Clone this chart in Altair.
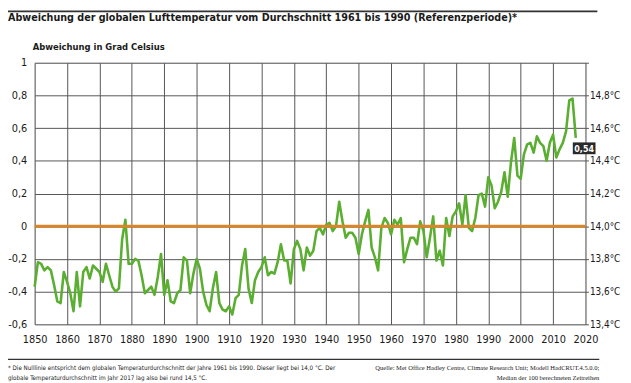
import altair as alt
import pandas as pd

# HadCRUT 4.5.0.0 annual median anomalies (deg C vs 1961-1990)
years = list(range(1850, 2018))
anomaly = [
    -0.37, -0.22, -0.23, -0.27, -0.25, -0.27, -0.36, -0.46, -0.47, -0.28,  # 1850s
    -0.34, -0.41, -0.52, -0.28, -0.49, -0.28, -0.25, -0.32, -0.24, -0.26,  # 1860s
    -0.28, -0.34, -0.23, -0.30, -0.37, -0.40, -0.38, -0.08, 0.04, -0.23,   # 1870s
    -0.23, -0.20, -0.21, -0.30, -0.41, -0.39, -0.37, -0.42, -0.31, -0.17,  # 1880s
    -0.42, -0.33, -0.46, -0.47, -0.41, -0.39, -0.19, -0.21, -0.41, -0.29,  # 1890s
    -0.20, -0.26, -0.40, -0.48, -0.52, -0.38, -0.28, -0.47, -0.51, -0.52,  # 1900s
    -0.49, -0.54, -0.44, -0.42, -0.24, -0.14, -0.38, -0.47, -0.33, -0.28,  # 1910s
    -0.25, -0.19, -0.30, -0.28, -0.29, -0.22, -0.11, -0.21, -0.21, -0.35,  # 1920s
    -0.14, -0.09, -0.14, -0.27, -0.13, -0.18, -0.15, -0.03, -0.01, -0.05,  # 1930s
    0.01, 0.02, -0.03, 0.00, 0.15, 0.03, -0.07, -0.04, -0.04, -0.07,       # 1940s
    -0.17, -0.05, 0.03, 0.10, -0.13, -0.19, -0.27, -0.01, 0.05, 0.02,      # 1950s
    -0.05, 0.04, 0.01, 0.05, -0.22, -0.14, -0.07, -0.07, -0.11, 0.03,      # 1960s
    -0.03, -0.19, -0.07, 0.06, -0.21, -0.15, -0.24, 0.05, -0.06, 0.06,     # 1970s
    0.09, 0.14, 0.01, 0.19, -0.01, -0.03, 0.05, 0.19, 0.20, 0.12,          # 1980s
    0.30, 0.25, 0.11, 0.15, 0.21, 0.33, 0.18, 0.39, 0.54, 0.31,            # 1990s
    0.29, 0.44, 0.50, 0.51, 0.45, 0.55, 0.51, 0.49, 0.40, 0.51,            # 2000s
    0.56, 0.42, 0.47, 0.51, 0.58, 0.77, 0.78, 0.54,                        # 2010s
]
last_label = ["0,54"]

title_text = ["Abweichung der globalen Lufttemperatur vom Durchschnitt 1961 bis 1990 (Referenzperiode)*"]
subtitle_text = ["Abweichung in Grad Celsius"]
foot_left = [
    "* Die Nulllinie entspricht dem globalen Temperaturdurchschnitt der Jahre 1961 bis 1990. Dieser liegt bei 14,0 °C. Der",
    "globale Temperaturdurchschnitt im Jahr 2017 lag also bei rund 14,5 °C.",
]
foot_right = [
    "Quelle: Met Office Hadley Centre, Climate Research Unit; Modell HadCRUT.4.5.0.0;",
    "Median der 100 berechneten Zeitreihen",
]
x_ticks = list(range(1850, 2021, 10))
y_ticks = [-0.6, -0.4, -0.2, 0, 0.2, 0.4, 0.6, 0.8, 1]

FONT = "DejaVu Sans Condensed, Liberation Sans Narrow, sans-serif"
SERIF = "Liberation Serif, DejaVu Serif, serif"
GREEN = "#5aae30"
ORANGE = "#d9862a"
GRID = "#555555"
TXT = "#1a1a1a"

W, H = 558, 265

df = pd.DataFrame({"year": years, "value": anomaly})
last = pd.DataFrame({"year": [years[-1]], "value": [anomaly[-1]], "label": last_label})

xscale = alt.Scale(domain=[1850, 2020], nice=False, zero=False)
yscale = alt.Scale(domain=[-0.6, 1], nice=False)

x_axis = alt.Axis(values=x_ticks, format="d", grid=True, gridColor=GRID, gridWidth=1,
                  gridOpacity=1, ticks=False, domain=False, labelFont=FONT, labelFontSize=11,
                  labelColor=TXT, labelPadding=9, labelFlush=False, title=None)

left_axis = alt.Axis(
    values=y_ticks, grid=True, gridColor=GRID, gridWidth=1, gridOpacity=1, ticks=False,
    domain=False, labelFont=FONT, labelFontSize=11, labelColor=TXT, labelPadding=8,
    labelExpr="replace(replace(format(datum.value, '~g'), '.', ','), '\u2212', '-')",
    title=None, orient="left",
)
right_axis = alt.Axis(
    values=y_ticks, grid=False, ticks=True, tickSize=3, tickColor=GRID, domain=False,
    labelFont=FONT, labelFontSize=10, labelColor=TXT, labelPadding=1,
    labelExpr="datum.value > 0.95 ? '' : replace(format(14 + datum.value, '.1f'), '.', ',') + '°C'",
    title=None, orient="right",
)

line = alt.Chart(df).mark_line(color=GREEN, strokeWidth=2.6, strokeJoin="round").encode(
    x=alt.X("year:Q", scale=xscale, axis=x_axis),
    y=alt.Y("value:Q", scale=yscale, axis=left_axis),
)

zero = alt.Chart(pd.DataFrame({"v": [0]})).mark_rule(color=ORANGE, strokeWidth=3).encode(
    y=alt.Y("v:Q", scale=yscale, axis=right_axis)
)

box = alt.Chart(last).mark_point(
    shape="M-1,-0.52L1,-0.52L1,0.52L-1,0.52Z", filled=True, fill="#2a2a2a", opacity=1,
    size=529, xOffset=8.5, yOffset=10.5,
).encode(
    x=alt.X("year:Q", scale=xscale, axis=x_axis),
    y=alt.Y("value:Q", scale=yscale, axis=None),
)

box_text = alt.Chart(last).mark_text(
    color="white", font=FONT, fontSize=9, fontWeight="bold", xOffset=8.5, yOffset=11,
    baseline="middle", align="center",
).encode(
    x=alt.X("year:Q", scale=xscale, axis=x_axis),
    y=alt.Y("value:Q", scale=yscale, axis=None),
    text="label:N",
)


def text_layer(lines, x, y, size, weight="normal", align="left", font=FONT, dy=10):
    layers = []
    for k, ln in enumerate(lines):
        layers.append(
            alt.Chart(pd.DataFrame({"t": [ln]})).mark_text(
                align=align, baseline="alphabetic", font=font, fontSize=size,
                fontWeight=weight, color=TXT,
            ).encode(text="t:N", x=alt.value(x), y=alt.value(y + k * dy))
        )
    return layers


title = text_layer(title_text, -27, -42, 10.8, weight="bold")
subtitle = text_layer(subtitle_text, -2, -12.5, 9.5, weight="bold")
fl = text_layer(foot_left, -27, 311, 6.3, dy=10)
fr = text_layer(foot_right, 572, 311, 6.6, align="right", font=SERIF, dy=10)

top_rule = alt.Chart(pd.DataFrame({"a": [0]})).mark_rule(color="#333333", strokeWidth=1.6).encode(
    x=alt.value(-27), x2=alt.value(570), y=alt.value(-52)
)
foot_rule = alt.Chart(pd.DataFrame({"a": [0]})).mark_rule(color="#333333", strokeWidth=1.4).encode(
    x=alt.value(-27), x2=alt.value(572), y=alt.value(300.5)
)

chart = alt.layer(
    line, zero, box, box_text, *title, *subtitle, *fl, *fr, top_rule, foot_rule
).resolve_axis(y="independent").resolve_scale(y="shared").properties(
    width=W, height=H,
    autosize=alt.AutoSizeParams(type="none"),
    padding={"left": 27, "top": 53, "right": 38, "bottom": 57},
).configure_view(fill="#e6e6e6", stroke=GRID, strokeWidth=1).configure(background="white")

chart.save("out.html", embed_options={"renderer": "svg", "actions": False})
